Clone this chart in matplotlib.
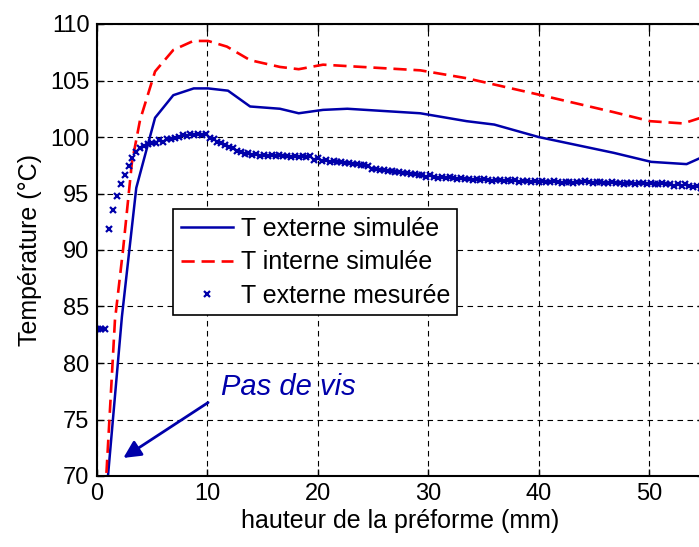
import matplotlib
matplotlib.use('Agg')
import matplotlib.pyplot as plt
import numpy as np

plt.rcParams['font.family'] = ['Liberation Sans', 'DejaVu Sans']

# T externe simulée
ext_x = [0.95, 2.3, 3.6, 5.3, 6.95, 8.8, 10.1, 11.9, 13.9, 16.6, 18.3,
         20.5, 22.7, 29.3, 33.5, 36.0, 40.0, 46.8, 50.2, 53.4, 55.0]
ext_y = [69.0, 84.1, 95.5, 101.7, 103.7, 104.3, 104.3, 104.1, 102.7, 102.5, 102.1,
         102.4, 102.5, 102.1, 101.4, 101.1, 100.0, 98.6, 97.8, 97.6, 98.3]

# T interne simulée
int_x = [0.8, 1.67, 2.4, 3.2, 3.94, 5.3, 6.95, 8.76, 10.1, 11.8, 13.9,
         16.6, 18.3, 20.5, 29.3, 33.5, 39.8, 46.8, 50.1, 53.1, 55.0]
int_y = [68.5, 83.8, 90.0, 97.7, 101.5, 105.8, 107.7, 108.5, 108.5, 108.0, 106.8,
         106.2, 106.0, 106.4, 105.9, 105.2, 103.8, 102.2, 101.4, 101.2, 101.8]

# T externe mesurée (sampled every 0.35 mm from 0.1 mm)
mes_x0, mes_dx = 0.1, 0.35
mes_y = [83.0, 83.0, 83.0, 91.9, 93.5, 94.8, 95.8, 96.6, 97.4, 98.1,
         98.7, 99.0, 99.2, 99.4, 99.5, 99.5, 99.7, 99.6, 99.8, 99.8,
         99.9, 100.0, 100.2, 100.1, 100.3, 100.2, 100.3, 100.2, 100.3, 99.9,
         99.8, 99.6, 99.5, 99.3, 99.1, 99.0, 98.8, 98.7, 98.5, 98.6,
         98.4, 98.5, 98.3, 98.4, 98.3, 98.4, 98.3, 98.4, 98.3, 98.3,
         98.2, 98.3, 98.2, 98.3, 98.2, 98.3, 98.0, 98.1, 97.9, 98.0,
         97.8, 97.9, 97.8, 97.8, 97.7, 97.7, 97.6, 97.6, 97.5, 97.5,
         97.4, 97.2, 97.2, 97.1, 97.1, 97.0, 97.0, 96.9, 96.9, 96.8,
         96.8, 96.7, 96.7, 96.6, 96.6, 96.5, 96.6, 96.5, 96.4, 96.5,
         96.4, 96.5, 96.4, 96.3, 96.4, 96.3, 96.3, 96.2, 96.3, 96.2,
         96.3, 96.2, 96.1, 96.2, 96.2, 96.1, 96.2, 96.1, 96.2, 96.0,
         96.1, 96.1, 96.0, 96.1, 96.0, 96.1, 96.0, 96.0, 96.1, 96.0,
         95.9, 96.0, 96.0, 95.9, 96.0, 96.0, 96.1, 96.0, 95.9, 96.0,
         96.0, 95.9, 95.9, 96.0, 95.9, 95.9, 95.8, 95.9, 95.9, 95.8,
         95.9, 95.9, 95.8, 95.9, 95.8, 95.8, 95.9, 95.8, 95.8, 95.7,
         95.8, 95.7, 95.8, 95.7, 95.6, 95.7, 95.5]
mes_x = mes_x0 + mes_dx * np.arange(len(mes_y))

x_ticks = [0, 10, 20, 30, 40, 50]
y_ticks = [70, 75, 80, 85, 90, 95, 100, 105, 110]

blue = '#0000AA'

fig = plt.figure(figsize=(6.99, 5.47), dpi=100)
ax = fig.add_axes([96.5/699, (547-476)/547, 607.75/699, 452/547])

ax.plot(ext_x, ext_y, '-', color=blue, lw=1.8, label='T externe simulée')
ax.plot(int_x, int_y, '--', color='red', lw=1.9, dashes=(5, 2.6), label='T interne simulée')
ax.plot(mes_x, mes_y, 'x', color=blue, ms=4.5, mew=1.6, label='T externe mesurée')

ax.set_xlim(0, 55)
ax.set_ylim(70, 110)
ax.set_xticks(x_ticks)
ax.set_yticks(y_ticks)
ax.grid(True, color='black', linestyle=(0, (5, 4)), lw=0.8)
ax.tick_params(direction='in', length=5, width=1, labelsize=17, top=True, right=True, pad=5)
for s in ax.spines.values():
    s.set_linewidth(1.5)

ax.set_xlabel('hauteur de la préforme (mm)', fontsize=18, labelpad=3)
ax.set_ylabel('Température (°C)', fontsize=18, labelpad=6)

# annotation: arrow and text placed separately
ax.annotate('', xy=(2.43, 71.6), xytext=(10.1, 76.5),
            arrowprops=dict(arrowstyle='-|>', color=blue, lw=2, mutation_scale=26,
                            shrinkA=0, shrinkB=0))
ax.text(11.3, 77.2, 'Pas de vis', color=blue, fontsize=21, style='italic',
        ha='left', va='baseline')

leg = ax.legend(loc='upper left', bbox_to_anchor=(0.126, 0.59), borderaxespad=0,
                fontsize=18, frameon=True, fancybox=False, edgecolor='black',
                framealpha=1, handlelength=2.1, handletextpad=0.3, labelspacing=0.38,
                borderpad=0.3)
leg.get_frame().set_linewidth(1.2)

fig.savefig('out.png', dpi=100)
